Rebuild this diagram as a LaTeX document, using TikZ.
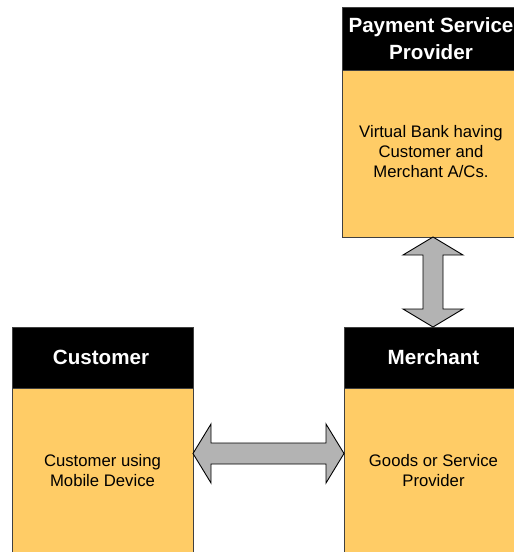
\documentclass[tikz,border=0pt]{standalone}
\usepackage{fontspec}
\setmainfont{Liberation Sans}
\usetikzlibrary{calc}
\definecolor{boxyellow}{RGB}{255,204,102}
\definecolor{boxline}{RGB}{64,64,64}
\definecolor{arrowgray}{RGB}{179,179,179}
\begin{document}
\begin{tikzpicture}[x=1pt,y=1pt,
  headbox/.style={draw=boxline,fill=black,line width=0.8pt,inner sep=0pt,outer sep=0pt},
  bodybox/.style={draw=boxline,fill=boxyellow,line width=0.8pt,inner sep=0pt,outer sep=0pt},
  headtext/.style={text=white,align=center,font=\fontsize{20.6}{27}\selectfont\bfseries,inner sep=0pt},
  bodytext/.style={text=black,align=center,font=\fontsize{16.7}{20}\selectfont,inner sep=0pt},
  fatarrow/.style={draw=black,fill=arrowgray,line width=0.9pt,line join=miter}]
\useasboundingbox (0,0) rectangle (514,-552);
\clip (0,0) rectangle (514,-552);
% Payment Service Provider
\node[headbox,minimum width=178pt,minimum height=63pt] (ph) at (431,-38.5) {};
\node[bodybox,minimum width=178pt,minimum height=167pt] (pb) at (431,-153.5) {};
\node[headtext] (pht) at (431,-39) {Payment Service\\Provider};
\node[bodytext] (pbt) at (431,-152) {Virtual Bank having\\Customer and\\Merchant A/Cs.};
% Customer
\node[headbox,minimum width=181pt,minimum height=61pt] (chd) at (102.5,-357.5) {};
\node[bodybox,minimum width=181pt,minimum height=182pt] (cb) at (102.5,-479) {};
\node[headtext] (cht) at (101,-357) {Customer};
\node[bodytext] (cbt) at (102.5,-471) {Customer using\\Mobile Device};
% Merchant
\node[headbox,minimum width=179pt,minimum height=61pt] (mh) at (433.5,-357.5) {};
\node[bodybox,minimum width=179pt,minimum height=182pt] (mb) at (433.5,-479) {};
\node[headtext] (mht) at (433.5,-357) {Merchant};
\node[bodytext] (mbt) at (433.5,-471) {Goods or Service\\Provider};
% horizontal double arrow Customer <-> Merchant
\coordinate (hl) at (cb.east |- 0,-453.5);
\coordinate (hr) at (mb.west |- 0,-453.5);
\draw[fatarrow] (hl) -- ($(hl)+(18,29.5)$) -- ($(hl)+(18,10.5)$) -- ($(hr)+(-18,10.5)$)
  -- ($(hr)+(-18,29.5)$) -- (hr) -- ($(hr)+(-18,-29.5)$) -- ($(hr)+(-18,-10.5)$)
  -- ($(hl)+(18,-10.5)$) -- ($(hl)+(18,-29.5)$) -- cycle;
% vertical double arrow PSP <-> Merchant
\coordinate (vt) at (pb.south -| 433,0);
\coordinate (vb) at (mh.north -| 433,0);
\draw[fatarrow] (vt) -- ($(vt)+(30,-18)$) -- ($(vt)+(10,-18)$) -- ($(vb)+(10,18)$)
  -- ($(vb)+(30,18)$) -- (vb) -- ($(vb)+(-30,18)$) -- ($(vb)+(-10,18)$)
  -- ($(vt)+(-10,-18)$) -- ($(vt)+(-30,-18)$) -- cycle;
\end{tikzpicture}
\end{document}
